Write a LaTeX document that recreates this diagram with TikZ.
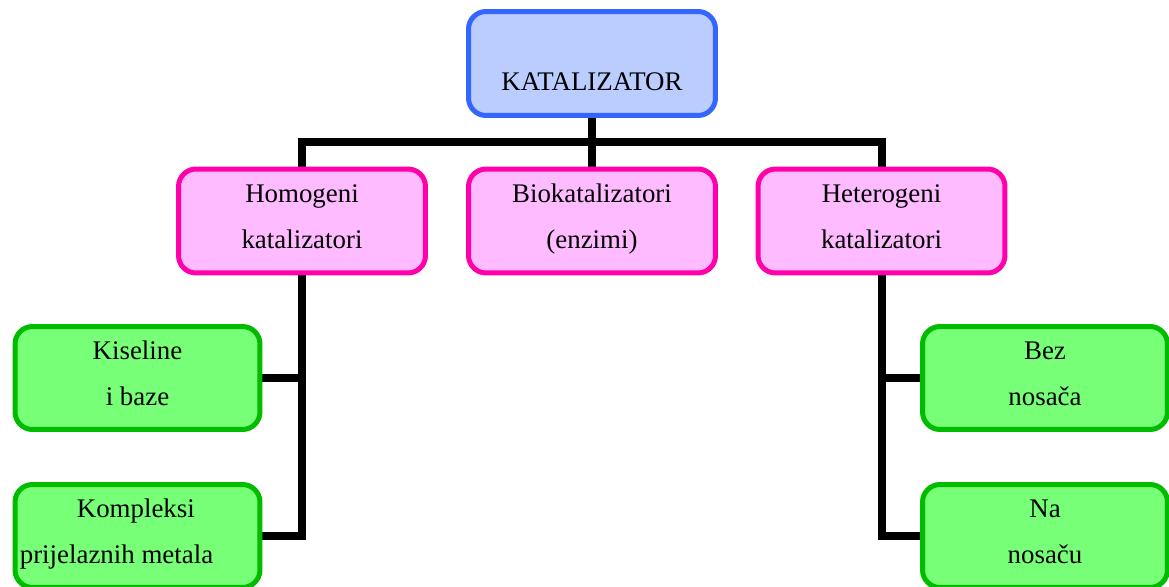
\documentclass[tikz,border=0pt]{standalone}
\usepackage{fontspec}
\setmainfont{Liberation Serif}
\usetikzlibrary{backgrounds}
\definecolor{katblue}{RGB}{51,102,255}
\definecolor{katbluefill}{RGB}{187,204,255}
\definecolor{katpink}{RGB}{255,0,170}
\definecolor{katpinkfill}{RGB}{255,187,255}
\definecolor{katgreen}{RGB}{0,187,0}
\definecolor{katgreenfill}{RGB}{119,255,119}
\newcommand{\linestrut}{\rule[-10.4pt]{0pt}{25.4pt}}

\begin{document}
\begin{tikzpicture}[x=0.02cm, y=-0.02cm,
    box/.style={rectangle, rounded corners=0.35cm, line width=0.1cm, minimum width=4.94cm, minimum height=2.08cm, inner sep=0pt, align=center, font=\fontsize{15.3pt}{26.2pt}\selectfont},
    topbox/.style={box, draw=katblue, fill=katbluefill},
    midbox/.style={box, draw=katpink, fill=katpinkfill},
    leafbox/.style={box, draw=katgreen, fill=katgreenfill, minimum width=4.9cm, minimum height=2.06cm},
    link/.style={line width=0.16cm, line join=miter, line cap=rect}]

    \useasboundingbox (0,0) rectangle (1169,587);

    \node[topbox] (kat) at (592,63.5) {\linestrut\\\linestrut KATALIZATOR};

    \node[midbox] (hom) at (302,221) {\linestrut Homogeni\\\linestrut katalizatori};
    \node[midbox] (bio) at (592,221) {\linestrut Biokatalizatori\\\linestrut (enzimi)};
    \node[midbox] (het) at (881.5,221) {\linestrut Heterogeni\\\linestrut katalizatori};

    \node[leafbox] (kis) at (137.5,378) {\linestrut Kiseline\\\linestrut i baze};
    \node[leafbox, align=left] (kom) at (137.5,536) {\linestrut\hspace*{1.14cm}Kompleksi\\\linestrut prijelaznih metala\hspace*{0.84cm}};
    \node[leafbox] (bez) at (1045,378) {\linestrut Bez\\\linestrut nosača};
    \node[leafbox] (na) at (1045,536) {\linestrut Na\\\linestrut nosaču};

    \coordinate (bar) at (592,142);

    \begin{scope}[on background layer]
        \draw[link] (kat) -- (bio);
        \draw[link] (hom.north) |- (bar) -| (het.north);
        \draw[link] (hom.south) |- (kom.east);
        \draw[link] (kis.east) -- (hom.south |- kis.east);
        \draw[link] (het.south) |- (na.west);
        \draw[link] (bez.west) -- (het.south |- bez.west);
    \end{scope}

\end{tikzpicture}
\end{document}
